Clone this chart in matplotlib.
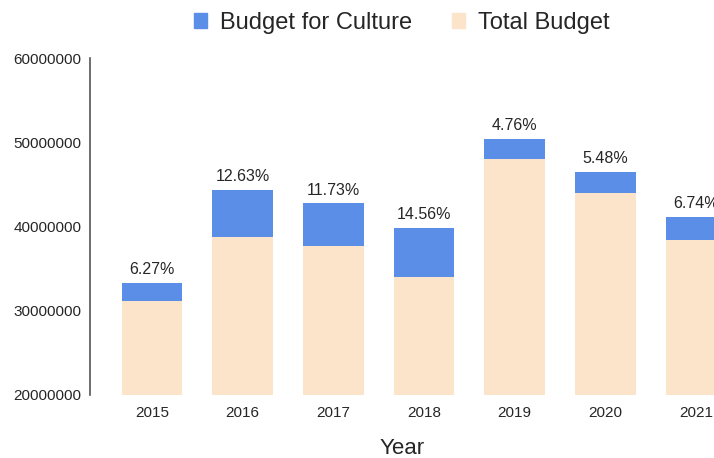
import numpy as np
import matplotlib
matplotlib.use("Agg")
from matplotlib import pyplot as plt
from matplotlib.patches import Patch

years = ["2015", "2016", "2017", "2018", "2019", "2020", "2021"]
# total budget per year (top of each bar)
total_budget = [33300000, 44300000, 42750000, 39850000, 50400000, 46500000, 41150000]
# share of the budget going to culture, in percent
culture_pct = [6.27, 12.63, 11.73, 14.56, 4.76, 5.48, 6.74]
yticks = [20000000, 30000000, 40000000, 50000000, 60000000]

total = np.array(total_budget, dtype=float)
culture = total * np.array(culture_pct) / 100
rest = total - culture

blue = "#5b8ee6"
peach = "#fce4ca"
txt = "#262626"

plt.rcParams["font.family"] = ["Liberation Sans", "DejaVu Sans"]

fig = plt.figure(figsize=(7.14, 4.58), dpi=100)
ax = fig.add_axes([0.126, 0.1376, 0.874, 0.7354])

x = np.arange(len(years))
w = 0.67
ax.bar(x, rest, w, color=peach, zorder=2)
ax.bar(x, culture, w, bottom=rest, color=blue, zorder=2)

for i in range(len(years)):
    ax.text(x[i], total[i] + 700000, f"{culture_pct[i]:.2f}%", ha="center", va="bottom",
            fontsize=11.5, color=txt)

ax.set_ylim(20000000, 60000000)
ax.set_xlim(-0.684, 6.2)
ax.set_yticks(yticks)
ax.set_yticklabels([str(v) for v in yticks])
ax.set_xticks(x)
ax.set_xticklabels(years)
ax.tick_params(axis="both", length=0, labelsize=11, colors=txt)
ax.tick_params(axis="y", pad=6)
ax.tick_params(axis="x", pad=8)

for s in ["top", "right", "bottom"]:
    ax.spines[s].set_visible(False)
ax.spines["left"].set_color("#555555")
ax.spines["left"].set_linewidth(1.2)

ax.set_xlabel("Year", fontsize=16, color=txt, labelpad=13)

handles = [Patch(color=blue, label="Budget for Culture"),
           Patch(color=peach, label="Total Budget")]
fig.legend(handles=handles, loc="center", bbox_to_anchor=(0.563, 0.950), ncol=2,
           frameon=False, fontsize=17, handlelength=0.55, handleheight=0.55,
           handletextpad=0.55, columnspacing=1.7, labelcolor=txt)

fig.savefig("out.png", dpi=100)
